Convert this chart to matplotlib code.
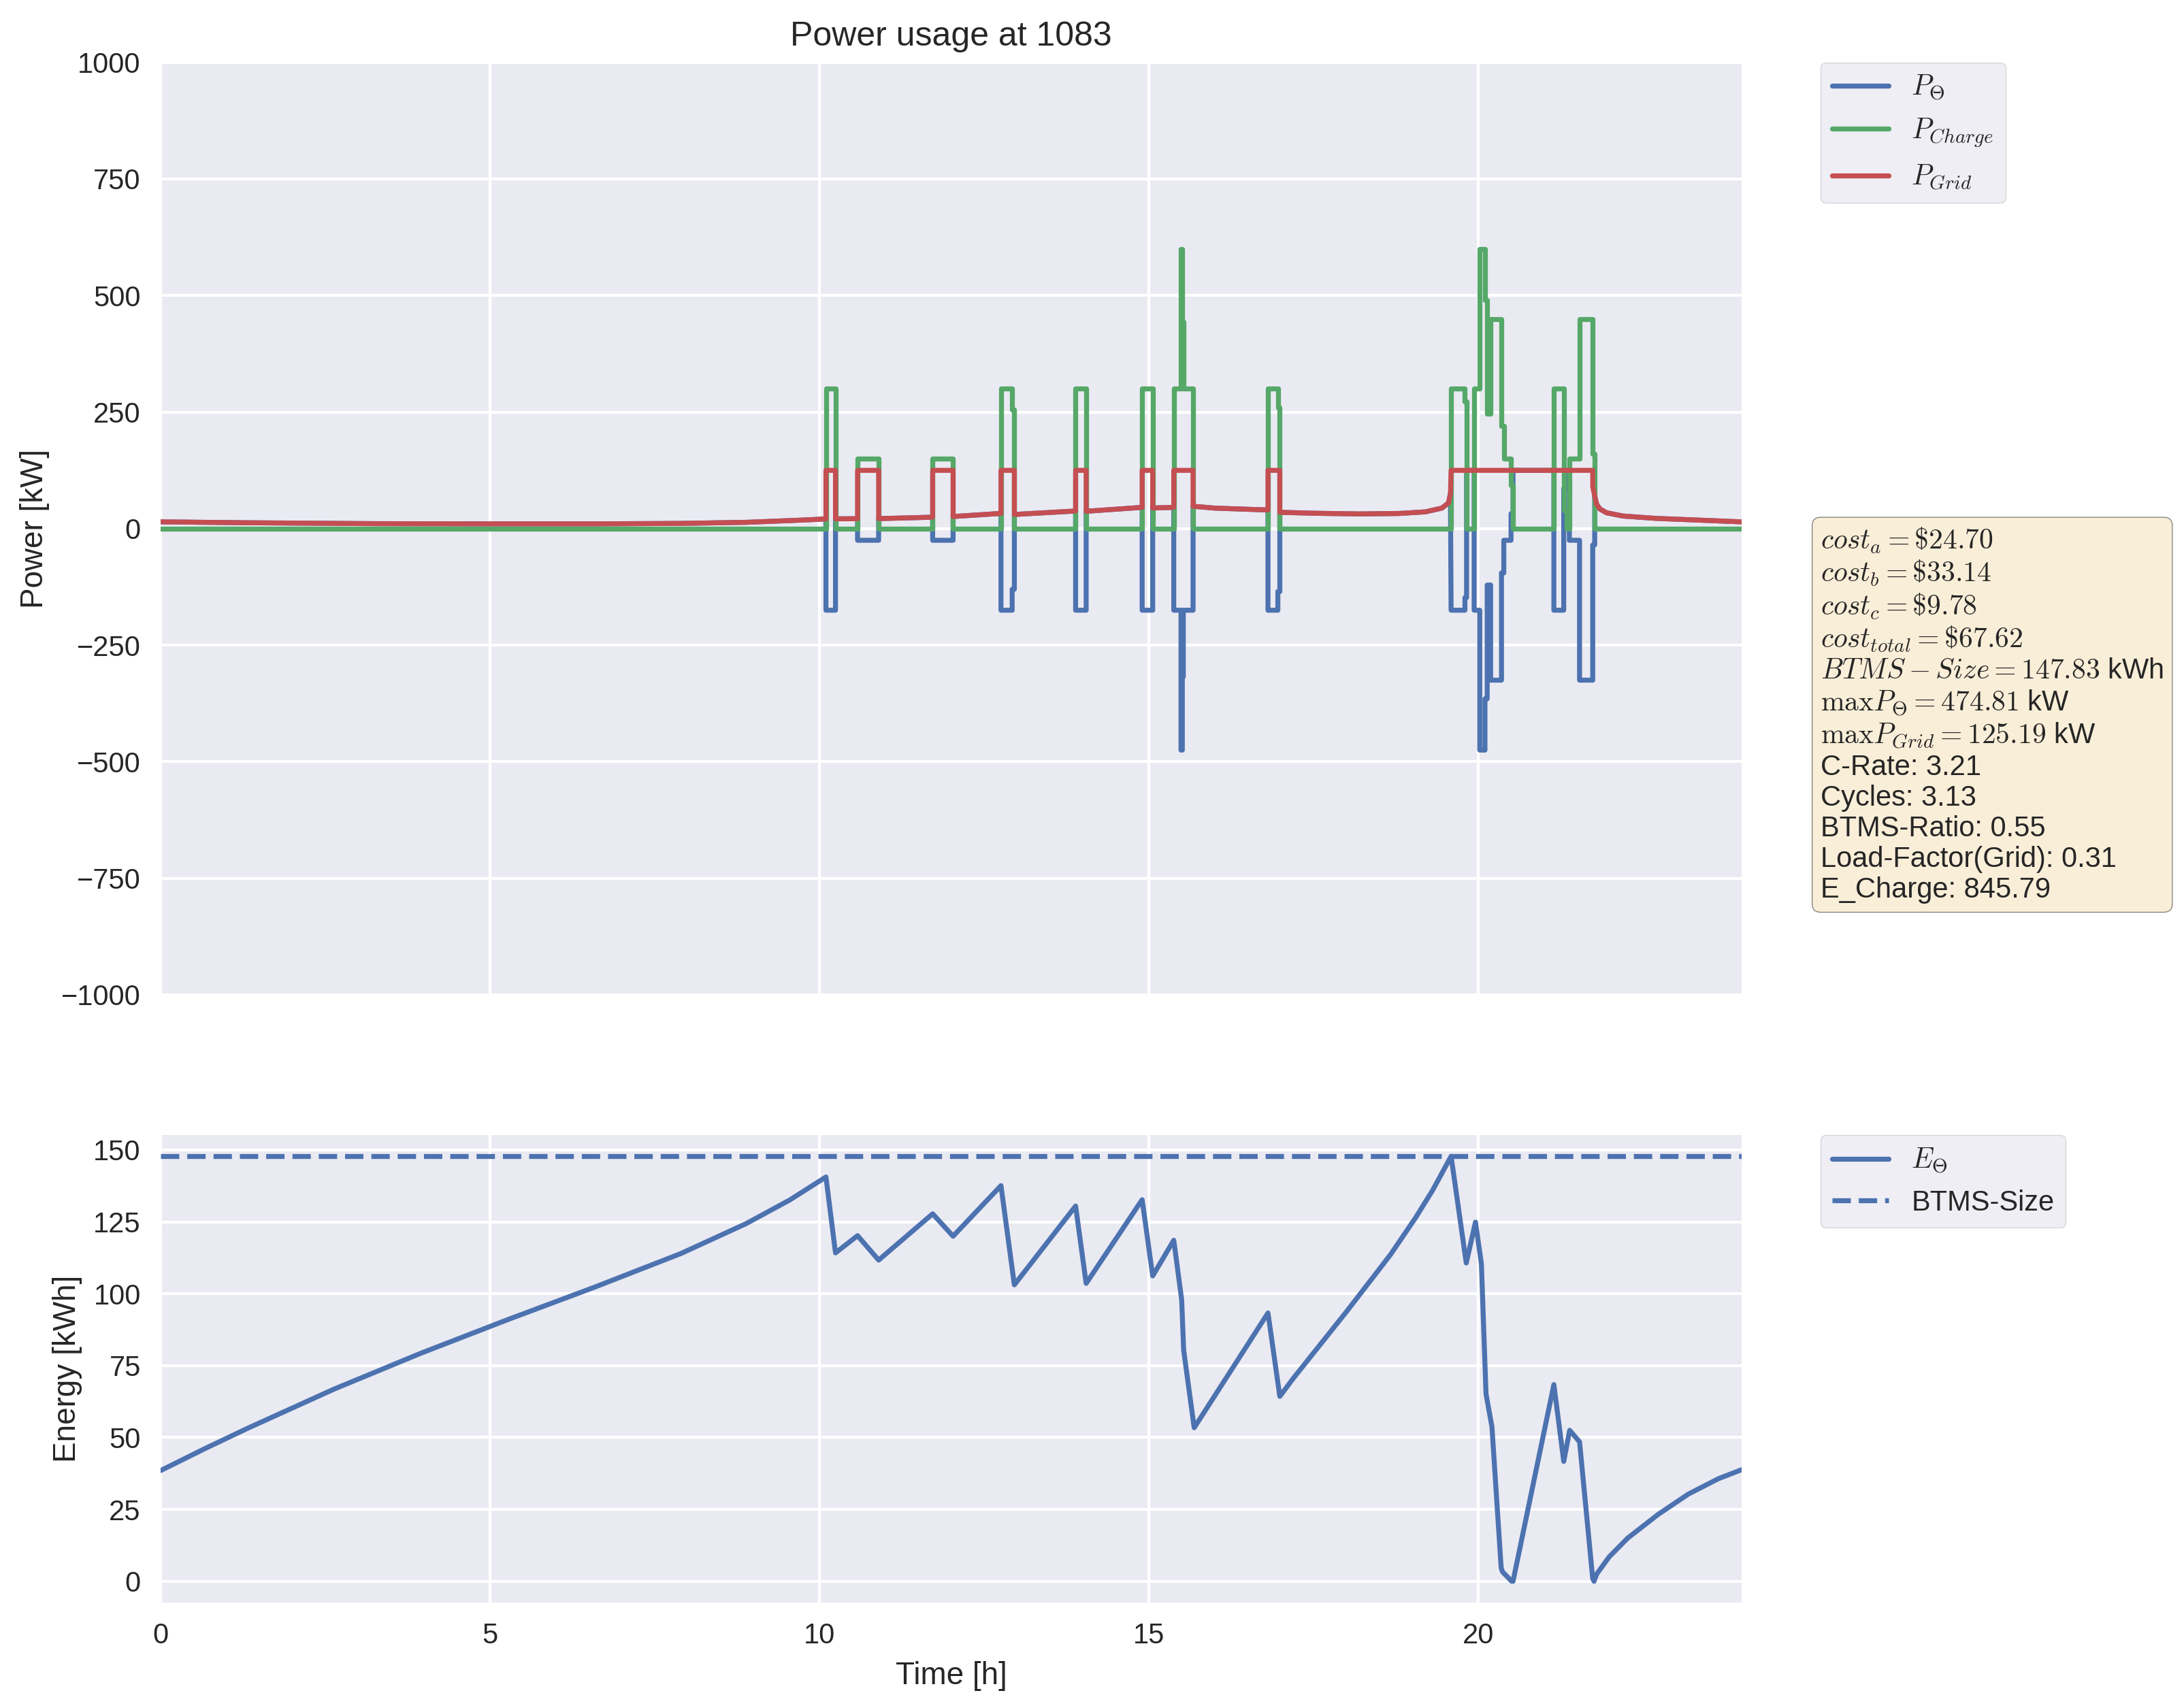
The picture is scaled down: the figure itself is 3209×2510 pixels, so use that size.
import numpy as np
import matplotlib
matplotlib.use("Agg")
import matplotlib.pyplot as plt

# values
station = 1083

# grid power [kW] (vertices, repeated times are jumps)
grid_t = [0, 1.3, 3.3, 4.94, 6.59, 7.9, 8.89, 9.75, 10.10,
          10.10, 10.245, 10.245, 10.58, 10.58, 10.90, 10.90, 11.72,
          11.72, 12.03, 12.03, 12.757, 12.757, 12.96, 12.96, 13.89,
          13.89, 14.05, 14.05, 14.90, 14.90, 15.06, 15.06, 15.38,
          15.38, 15.673, 15.673, 16.0, 16.81, 16.81, 16.99, 16.99,
          17.5, 18.2, 18.8, 19.2, 19.45, 19.55, 19.58, 19.59,
          21.74, 21.74, 21.77, 21.80, 21.85, 21.95, 22.2, 22.7, 23.4, 24.0]
grid_kw = [14.5, 12.6, 10.6, 10.2, 10.2, 11.2, 13.5, 18.4, 20.8,
           125, 125, 21, 21.3, 125, 125, 21.5, 24.5,
           125, 125, 26, 32.6, 125, 125, 30.4, 37.8,
           125, 125, 37.2, 45.6, 125, 125, 44.3, 45.6,
           125, 125, 48, 44, 40, 125, 125, 35,
           33, 31.5, 32.5, 36, 44, 55, 75, 125,
           125, 90, 70, 52, 42, 34, 27, 22, 18, 14.5]

# charging power [kW] (step starts)
charge_t = [0, 10.10, 10.245, 10.58, 10.90, 11.72, 12.03, 12.757, 12.927, 12.96,
            13.89, 14.05, 14.90, 15.06, 15.38, 15.49, 15.51, 15.525, 15.673,
            16.81, 16.96, 16.99, 19.59, 19.80, 19.825, 19.94, 20.025, 20.104,
            20.138, 20.19, 20.355, 20.39, 20.50, 20.53, 21.15, 21.30, 21.345,
            21.385, 21.54, 21.74, 21.77, 24.0]
charge_kw = [0, 300, 0, 150, 0, 150, 0, 300, 255, 0,
             300, 0, 300, 0, 300, 600, 443, 300, 0,
             300, 260, 0, 300, 272, 0, 300, 600, 490,
             246, 450, 220, 150, 93, 0, 300, 39, 0,
             150, 450, 160, 0, 0]

# BTMS power [kW] (vertices)
btms_t = [0, 1.3, 3.3, 4.94, 6.59, 7.9, 8.89, 9.75, 10.10,
          10.10, 10.245, 10.245, 10.58,
          10.58, 10.90, 10.90, 11.72,
          11.72, 12.03, 12.03, 12.757,
          12.757, 12.927, 12.927, 12.96, 12.96, 13.89,
          13.89, 14.05, 14.05, 14.90,
          14.90, 15.06, 15.06, 15.38,
          15.38, 15.49, 15.49, 15.51, 15.51, 15.525, 15.525, 15.673, 15.673, 16.0, 16.81,
          16.81, 16.96, 16.96, 16.99, 16.99, 17.5, 18.2, 18.8, 19.2, 19.45, 19.55, 19.58,
          19.59, 19.80, 19.80, 19.825, 19.825, 19.94, 19.94, 20.025, 20.025, 20.104,
          20.104, 20.138, 20.138, 20.19, 20.19, 20.355, 20.355, 20.39, 20.39, 20.50,
          20.50, 20.53, 20.53, 21.15, 21.15, 21.30, 21.30, 21.345, 21.345, 21.385,
          21.385, 21.54, 21.54, 21.74, 21.74, 21.77, 21.77, 21.80, 21.85, 21.95,
          22.2, 22.7, 23.4, 24.0]
btms_kw = [14.5, 12.6, 10.6, 10.2, 10.2, 11.2, 13.5, 18.4, 20.8,
           -175, -175, 21, 21.3,
           -25, -25, 21.5, 24.5,
           -25, -25, 26, 32.6,
           -175, -175, -130, -130, 30.4, 37.8,
           -175, -175, 37.2, 45.6,
           -175, -175, 44.3, 45.6,
           -175, -175, -475, -475, -318, -318, -175, -175, 48, 44, 40,
           -175, -175, -135, -135, 35, 33, 31.5, 32.5, 36, 44, 55, 75,
           -175, -175, -148, -148, 125, 125, -175, -175, -475, -475,
           -365, -365, -121, -121, -325, -325, -95, -95, -25, -25,
           32, 32, 125, 125, -175, -175, 86, 86, 125, 125,
           -25, -25, -325, -325, -35, -35, 70, 52, 42, 34,
           27, 22, 18, 14.5]

# stored energy [kWh]
energy_t = [0, 0.66, 1.32, 2.63, 3.95, 5.27, 6.59, 7.90, 8.89, 9.55, 10.10,
            10.245, 10.58, 10.90, 11.72, 12.03, 12.757, 12.96, 13.89, 14.05,
            14.90, 15.06, 15.38, 15.50, 15.53, 15.69, 16.81, 16.99, 17.195,
            18.01, 18.67, 19.05, 19.31, 19.59, 19.82, 19.96, 20.05, 20.12,
            20.21, 20.35, 20.37, 20.51, 20.53, 21.15, 21.30, 21.39, 21.54,
            21.74, 21.76, 21.80, 21.99, 22.27, 22.73, 23.19, 23.65, 24.0]
energy_kwh = [38.5, 46.0, 53.2, 66.8, 79.3, 91.0, 102.3, 114.0, 124.4, 132.6, 140.6,
              114.2, 120.2, 111.7, 127.8, 120.0, 137.6, 103.1, 130.5, 103.6,
              132.7, 106.2, 118.6, 97.9, 80.4, 53.4, 93.3, 64.3, 70.6,
              94.0, 113.6, 126.4, 136.0, 147.8, 110.7, 124.9, 110.4, 65.2,
              53.7, 4.7, 3.3, 0, 0, 68.4, 41.7, 52.5, 48.5,
              0.9, 0, 2.5, 8.5, 15.0, 23.2, 30.3, 35.7, 38.8]

btms_size = 147.83

info_lines = [r"$cost_a = \$24.70$",
              r"$cost_b = \$33.14$",
              r"$cost_c = \$9.78$",
              r"$cost_{total} = \$67.62$",
              r"$BTMS-Size = 147.83$ kWh",
              r"$\max P_{\Theta} = 474.81$ kW",
              r"$\max P_{Grid} = 125.19$ kW",
              "C-Rate: 3.21",
              "Cycles: 3.13",
              "BTMS-Ratio: 0.55",
              "Load-Factor(Grid): 0.31",
              "E_Charge: 845.79"]

plt.style.use("seaborn-v0_8")
plt.rcParams["font.family"] = ["Liberation Sans", "DejaVu Sans"]
plt.rcParams["mathtext.fontset"] = "cm"
plt.rcParams["legend.frameon"] = True

lw = 1.75
fig = plt.figure(figsize=(3209 / 300, 2510 / 300), dpi=300)
ax1 = fig.add_axes([0.07354, 0.41753, 0.7239, 0.54594])
ax2 = fig.add_axes([0.07354, 0.06175, 0.7239, 0.27371], sharex=ax1)

ax1.plot(btms_t, btms_kw, color="C0", lw=lw, label=r"$P_{\Theta}$")
ax1.step(charge_t, charge_kw, where="post", color="C1", lw=lw, label=r"$P_{Charge}$")
ax1.plot(grid_t, grid_kw, color="C2", lw=lw, label=r"$P_{Grid}$")
ax1.set_ylim(-1000, 1000)
ax1.set_yticks(np.arange(-1000, 1001, 250))
ax1.set_ylabel("Power [kW]")
ax1.set_title("Power usage at " + str(station))
ax1.tick_params(labelbottom=False)
ax1.legend(loc="upper left", bbox_to_anchor=(1.05, 1), borderaxespad=0)

props = dict(boxstyle="round", facecolor="wheat", alpha=0.5)
ax1.text(1.05, 0.503, "\n".join(info_lines), transform=ax1.transAxes,
         fontsize=10, va="top", ha="left", linespacing=1.16, bbox=props)

ax2.plot(energy_t, energy_kwh, color="C0", lw=lw, label=r"$E_{\Theta}$")
ax2.axhline(btms_size, color="C0", lw=lw, ls="--", label="BTMS-Size")
ax2.set_xlim(0, 24)
ax2.set_xticks([0, 5, 10, 15, 20])
ax2.set_ylabel("Energy [kWh]")
ax2.set_xlabel("Time [h]")
ax2.legend(loc="upper left", bbox_to_anchor=(1.05, 1), borderaxespad=0)

fig.savefig("out.png", dpi=300)
